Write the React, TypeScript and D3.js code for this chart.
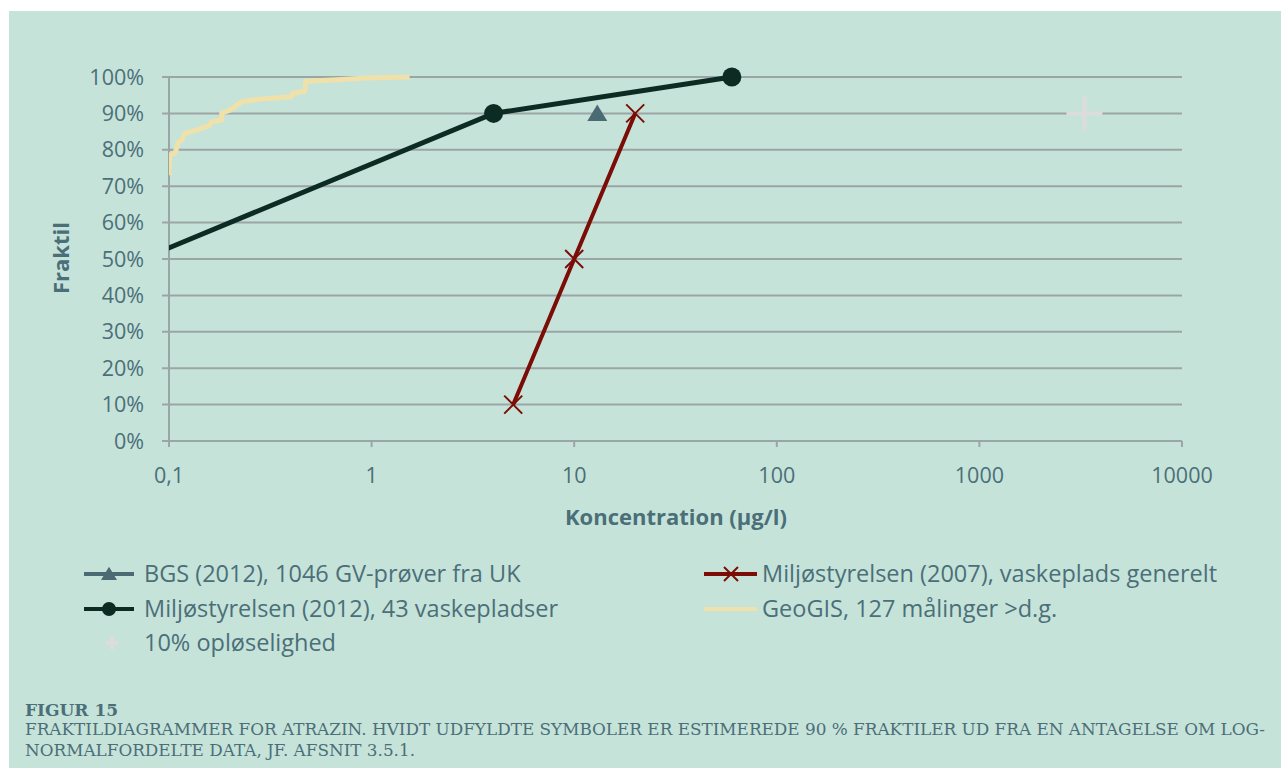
import React from 'react'
import * as d3 from 'd3'

// x values in µg/l, y values as fractile (0-1)
const bgsConc = [13]
const bgsFrac = [0.9]

const mst2012Conc = [0.03, 4, 60]
const mst2012Frac = [0.41, 0.9, 1.0]

const mst2007Conc = [5, 10, 20]
const mst2007Frac = [0.1, 0.5, 0.9]

const geoConc = [
  0.1, 0.101, 0.107, 0.109, 0.111, 0.1155, 0.12, 0.137, 0.159, 0.162, 0.182, 0.182, 0.2,
  0.228, 0.27, 0.402, 0.408, 0.468, 0.473, 0.643, 0.942, 1.54,
]
const geoFrac = [
  0.73, 0.786, 0.79, 0.805, 0.82, 0.827, 0.846, 0.854, 0.868, 0.877, 0.882, 0.901, 0.909,
  0.932, 0.938, 0.946, 0.956, 0.96, 0.988, 0.992, 0.997, 1.0,
]

const solConc = [3300]
const solFrac = [0.9]

const xTicks = [0.1, 1, 10, 100, 1000, 10000]
const xTickLabels = ['0,1', '1', '10', '100', '1000', '10000']
const yTicks = [0, 0.1, 0.2, 0.3, 0.4, 0.5, 0.6, 0.7, 0.8, 0.9, 1.0]

const legendItems = [
  'BGS (2012), 1046 GV-prøver fra UK',
  'Miljøstyrelsen (2007), vaskeplads generelt',
  'Miljøstyrelsen (2012), 43 vaskepladser',
  'GeoGIS, 127 målinger >d.g.',
  '10% opløselighed',
]

const captionTitle = 'FIGUR 15'
const captionLines = [
  'FRAKTILDIAGRAMMER FOR ATRAZIN. HVIDT UDFYLDTE SYMBOLER ER ESTIMEREDE 90 % FRAKTILER UD FRA EN ANTAGELSE OM LOG-',
  'NORMALFORDELTE DATA, JF. AFSNIT 3.5.1.',
]

const BG = '#c6e3da'
const GRID = '#9ba5a6'
const TEXT = '#4b6f78'
const DARK = '#0c2c23'
const RED = '#7b0d06'
const TRI = '#4b6b74'
const YEL = '#efe1a9'
const CROSS = '#dcdcdc'

const sans = "'Open Sans', 'Noto Sans', sans-serif"
const serif = "'DejaVu Serif', 'Liberation Serif', serif"

const zip = (xs: number[], ys: number[]) => xs.map((x, i) => [x, ys[i]] as [number, number])

const Triangle = ({ cx, cy, s }: { cx: number; cy: number; s: number }) => (
  <path d={`M${cx},${cy - s * 0.9} L${cx + s},${cy + s * 0.75} L${cx - s},${cy + s * 0.75} Z`} fill={TRI} />
)
const XMark = ({ cx, cy, s, w }: { cx: number; cy: number; s: number; w: number }) => (
  <path d={`M${cx - s},${cy - s} L${cx + s},${cy + s} M${cx - s},${cy + s} L${cx + s},${cy - s}`} stroke={RED} strokeWidth={w} />
)
const Plus = ({ cx, cy, s, w }: { cx: number; cy: number; s: number; w: number }) => (
  <path d={`M${cx - s},${cy} L${cx + s},${cy} M${cx},${cy - s} L${cx},${cy + s}`} stroke={CROSS} strokeWidth={w} />
)

export default function App() {
  const width = 1285,
    height = 772

  const left = 169,
    right = 1182,
    top = 77,
    bottom = 441

  const x = d3.scaleLog().domain([0.1, 10000]).range([left, right])
  const y = d3.scaleLinear().domain([0, 1]).range([bottom, top])
  const pct = d3.format('.0%')

  const line = d3
    .line<[number, number]>()
    .x(d => x(d[0]))
    .y(d => y(d[1]))

  const mst2012 = zip(mst2012Conc, mst2012Frac)
  const mst2007 = zip(mst2007Conc, mst2007Frac)
  const geo = zip(geoConc, geoFrac)
  const bgs = zip(bgsConc, bgsFrac)
  const sol = zip(solConc, solFrac)

  // legend positions
  const lgRows = [574, 609, 643]
  const lgCols = [84, 704]

  return (
    <svg
      width={width}
      height={height}
      style={{ position: 'absolute', left: 0, top: 0, background: '#fff' }}
    >
      <defs>
        <clipPath id="plot">
          <rect x={left} y={top - 20} width={right - left} height={bottom - top + 40} />
        </clipPath>
      </defs>
      <rect x={9} y={11} width={1272} height={757} fill={BG} />

      {/* gridlines and y labels */}
      {yTicks.map((d, i) => (
        <g key={i}>
          <line x1={left - 7} x2={right} y1={y(d)} y2={y(d)} stroke={GRID} strokeWidth={2} />
          <text x={144} y={y(d) + 7.5} textAnchor="end" fontFamily={sans} fontSize={21.5} fill={TEXT}>
            {pct(d)}
          </text>
        </g>
      ))}
      <line x1={left} x2={left} y1={top} y2={bottom + 6} stroke={GRID} strokeWidth={2} />

      {/* x ticks */}
      {xTicks.map((d, i) => (
        <g key={i}>
          <line x1={x(d)} x2={x(d)} y1={bottom} y2={bottom + 6} stroke={GRID} strokeWidth={2} />
          <text x={x(d)} y={483} textAnchor="middle" fontFamily={sans} fontSize={21.5} fill={TEXT}>
            {xTickLabels[i]}
          </text>
        </g>
      ))}

      {/* axis titles */}
      <text x={676} y={525} textAnchor="middle" fontFamily={sans} fontWeight="bold" fontSize={22} fill={TEXT}>
        Koncentration (µg/l)
      </text>
      <text
        transform={`translate(69, 258) rotate(-90)`}
        textAnchor="middle"
        fontFamily={sans}
        fontWeight="bold"
        fontSize={22}
        fill={TEXT}
      >
        Fraktil
      </text>

      {/* series */}
      <g clipPath="url(#plot)">
        <path d={line(geo) || ''} fill="none" stroke={YEL} strokeWidth={5} strokeLinejoin="round" />
        <path d={line(mst2012) || ''} fill="none" stroke={DARK} strokeWidth={5} />
        <path d={line(mst2007) || ''} fill="none" stroke={RED} strokeWidth={4} />
      </g>
      {mst2012
        .filter(d => d[0] >= 0.1)
        .map((d, i) => (
          <circle key={i} cx={x(d[0])} cy={y(d[1])} r={9.5} fill={DARK} />
        ))}
      {mst2007.map((d, i) => (
        <XMark key={i} cx={x(d[0])} cy={y(d[1])} s={9} w={2} />
      ))}
      {bgs.map((d, i) => (
        <Triangle key={i} cx={x(d[0])} cy={y(d[1])} s={10} />
      ))}
      {sol.map((d, i) => (
        <Plus key={i} cx={x(d[0])} cy={y(d[1])} s={18} w={4} />
      ))}

      {/* legend */}
      <g fontFamily={sans} fontSize={23.5} fill={TEXT}>
        <line x1={lgCols[0]} x2={lgCols[0] + 50} y1={lgRows[0]} y2={lgRows[0]} stroke={TRI} strokeWidth={4} />
        <Triangle cx={lgCols[0] + 25} cy={lgRows[0]} s={8} />
        <text x={lgCols[0] + 60} y={lgRows[0] + 8}>{legendItems[0]}</text>

        <line x1={lgCols[1]} x2={lgCols[1] + 53} y1={lgRows[0]} y2={lgRows[0]} stroke={RED} strokeWidth={4} />
        <XMark cx={lgCols[1] + 27} cy={lgRows[0]} s={7} w={2} />
        <text x={lgCols[1] + 58} y={lgRows[0] + 8}>{legendItems[1]}</text>

        <line x1={lgCols[0]} x2={lgCols[0] + 50} y1={lgRows[1]} y2={lgRows[1]} stroke={DARK} strokeWidth={4} />
        <circle cx={lgCols[0] + 25} cy={lgRows[1]} r={7} fill={DARK} />
        <text x={lgCols[0] + 60} y={lgRows[1] + 8}>{legendItems[2]}</text>

        <line x1={lgCols[1]} x2={lgCols[1] + 53} y1={lgRows[1]} y2={lgRows[1]} stroke={YEL} strokeWidth={4} />
        <text x={lgCols[1] + 58} y={lgRows[1] + 8}>{legendItems[3]}</text>

        <Plus cx={lgCols[0] + 28} cy={lgRows[2]} s={7} w={4} />
        <text x={lgCols[0] + 60} y={lgRows[2] + 8}>{legendItems[4]}</text>
      </g>

      {/* caption */}
      <text x={25} y={716} fontFamily={serif} fontWeight="bold" fontSize={17} fill={TEXT}>
        {captionTitle}
      </text>
      {captionLines.map((t, i) => (
        <text
          key={i}
          x={25}
          y={735 + i * 21}
          fontFamily={serif}
          fontSize={17}
          fill={TEXT}
          textLength={i === 0 ? 1240 : 390}
          lengthAdjust="spacingAndGlyphs"
        >
          {t}
        </text>
      ))}
    </svg>
  )
}
